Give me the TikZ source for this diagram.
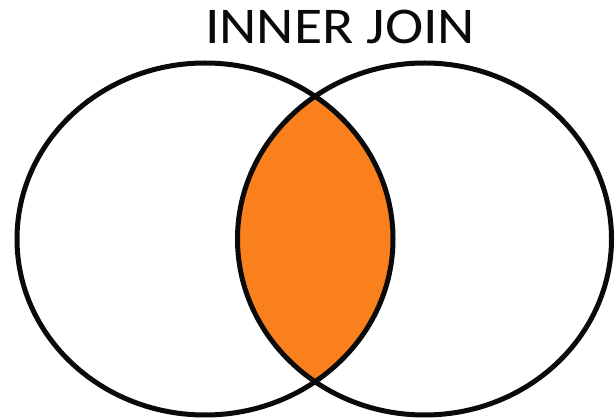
\documentclass[tikz,border=0pt]{standalone}
\usepackage{fontspec}
\setsansfont{Carlito}
\usepackage{xcolor}
\usepackage{tikz}
\definecolor{joinorange}{RGB}{250,128,30}
\definecolor{mydark}{RGB}{10,10,10}
\tikzset{
  setline/.style={draw=mydark, line width=5pt},
  title/.style={font=\sffamily\fontsize{51.5}{56}\selectfont, color=mydark,
    inner sep=0pt, xscale=1.12}
}

\begin{document}
\begin{tikzpicture}[x=1pt, y=1pt]
  \useasboundingbox (0,0) rectangle (616,420);
  % intersection
  \begin{scope}
    \clip (205,181) ellipse [x radius=188, y radius=176];
    \fill[joinorange] (424.5,181) ellipse [x radius=187, y radius=176];
  \end{scope}
  \draw[setline] (205,181) ellipse [x radius=188, y radius=176];
  \draw[setline] (424.5,181) ellipse [x radius=187, y radius=176];
  \node[title, anchor=base] (ttl) at (340,376) {INNER JOIN};
\end{tikzpicture}
\end{document}
